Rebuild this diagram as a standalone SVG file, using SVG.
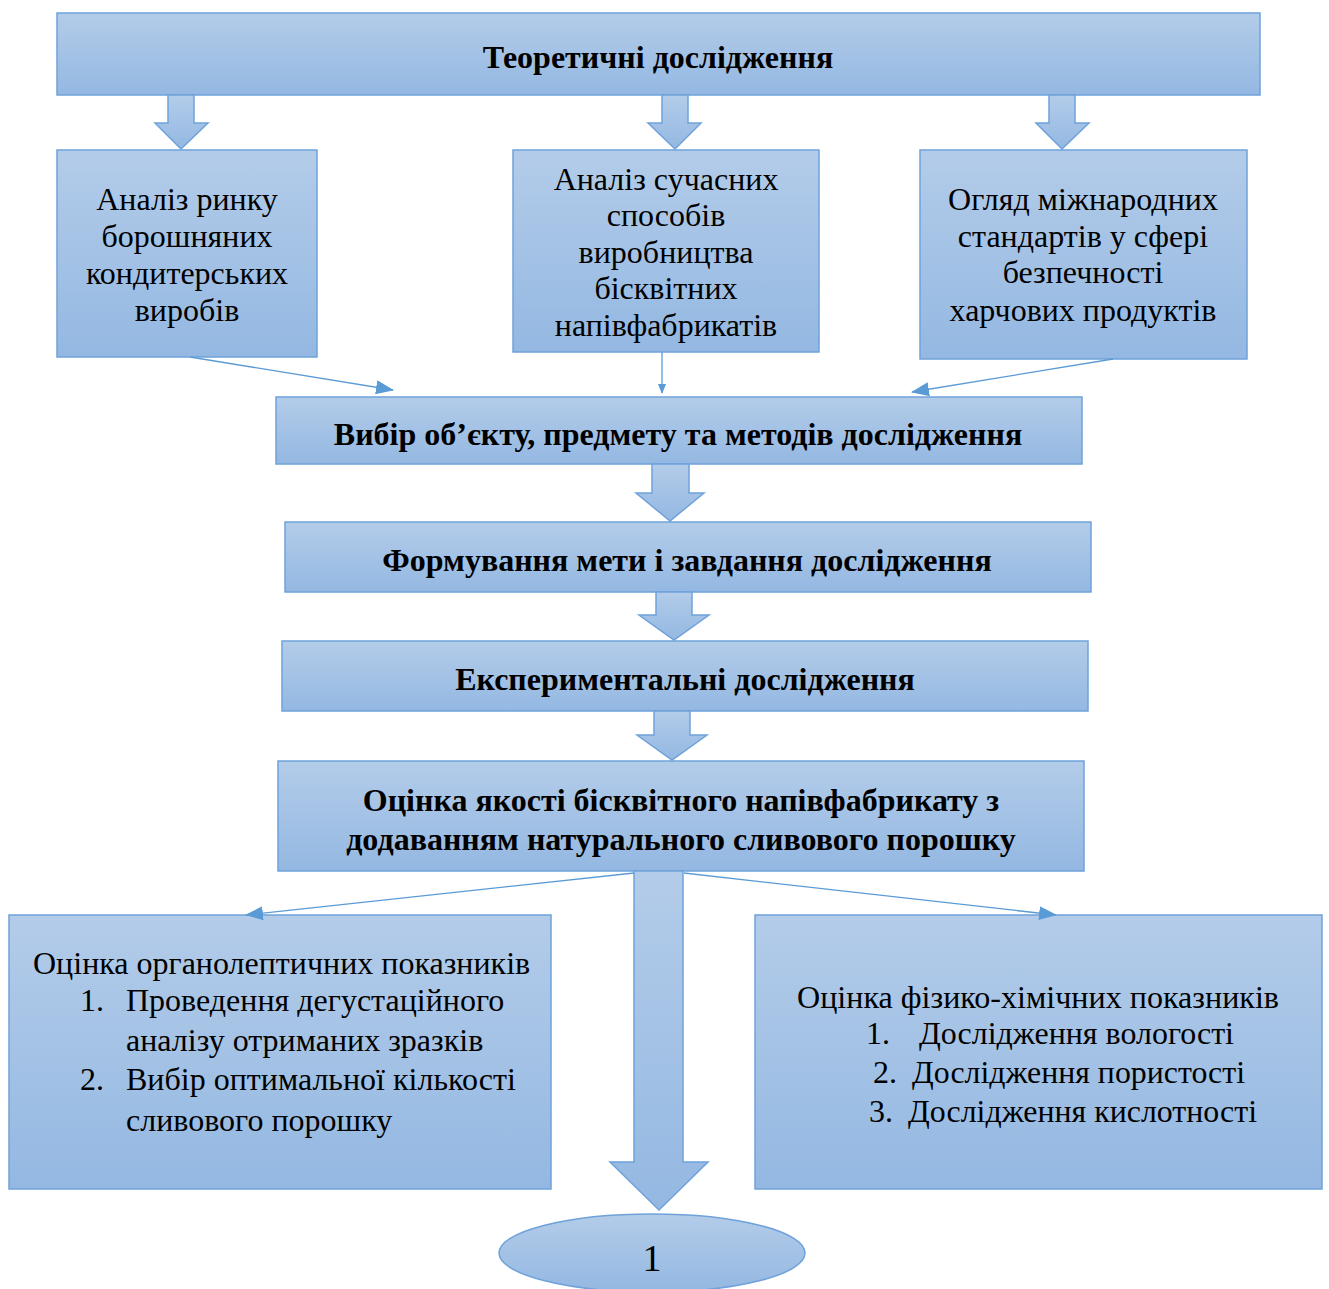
<svg xmlns="http://www.w3.org/2000/svg" width="1329" height="1289" viewBox="0 0 1329 1289">
<defs>
<linearGradient id="g" x1="0" y1="0" x2="0" y2="1">
<stop offset="0" stop-color="#b3cce9"/>
<stop offset="1" stop-color="#94b8e2"/>
</linearGradient>
<marker id="ah" markerWidth="10" markerHeight="8" refX="9" refY="4" orient="auto" markerUnits="userSpaceOnUse" viewBox="0 0 10 8">
<path d="M0,0 L10,4 L0,8 Z" fill="#5b9bd5"/>
</marker>
<marker id="ahb" markerWidth="18" markerHeight="14" refX="17" refY="7" orient="auto" markerUnits="userSpaceOnUse" viewBox="0 0 18 14">
<path d="M0,0 L18,7 L0,14 Z" fill="#5b9bd5"/>
</marker>
</defs>
<style>
.box{fill:url(#g);stroke:#6fa2da;stroke-width:1.5}
.blk{fill:url(#g);stroke:#6fa2da;stroke-width:1.5}
.t{font-family:"Liberation Serif","Times New Roman",serif;font-size:32px;fill:#000}
.b{font-weight:bold}
.c{text-anchor:middle}
.ln{stroke:#5b9bd5;stroke-width:1.3;fill:none}
</style>
<rect width="1329" height="1289" fill="#fff"/>
<g id="n-top">
<rect class="box" x="57" y="13" width="1203" height="82"/>
<text class="t b c" x="658" y="68">Теоретичні дослідження</text>
</g>
<g id="n-a">
<rect class="box" x="57" y="150" width="260" height="207"/>
<text class="t c" x="187" y="210">Аналіз ринку</text>
<text class="t c" x="187" y="247">борошняних</text>
<text class="t c" x="187" y="284">кондитерських</text>
<text class="t c" x="187" y="321">виробів</text>
</g>
<g id="n-b">
<rect class="box" x="513" y="150" width="306" height="202"/>
<text class="t c" x="666" y="190">Аналіз сучасних</text>
<text class="t c" x="666" y="226">способів</text>
<text class="t c" x="666" y="263">виробництва</text>
<text class="t c" x="666" y="299">бісквітних</text>
<text class="t c" x="666" y="336">напівфабрикатів</text>
</g>
<g id="n-c">
<rect class="box" x="920" y="150" width="327" height="209"/>
<text class="t c" x="1083" y="210">Огляд міжнародних</text>
<text class="t c" x="1083" y="247">стандартів у сфері</text>
<text class="t c" x="1083" y="283">безпечності</text>
<text class="t c" x="1083" y="321">харчових продуктів</text>
</g>
<g id="n-choice">
<rect class="box" x="276" y="397" width="806" height="67"/>
<text class="t b c" x="678" y="445">Вибір об’єкту, предмету та методів дослідження</text>
</g>
<g id="n-goal">
<rect class="box" x="285" y="522" width="806" height="70"/>
<text class="t b c" x="687" y="571">Формування мети і завдання дослідження</text>
</g>
<g id="n-exp">
<rect class="box" x="282" y="641" width="806" height="70"/>
<text class="t b c" x="685" y="690">Експериментальні дослідження</text>
</g>
<g id="n-quality">
<rect class="box" x="278" y="761" width="806" height="110"/>
<text class="t b c" x="681" y="811">Оцінка якості бісквітного напівфабрикату з</text>
<text class="t b c" x="681" y="850">додаванням натурального сливового порошку</text>
</g>
<g id="n-organ">
<rect class="box" x="9" y="915" width="542" height="274"/>
<text class="t" x="33" y="974">Оцінка органолептичних показників</text>
<text class="t" x="80" y="1011">1.</text>
<text class="t" x="126" y="1011">Проведення дегустаційного</text>
<text class="t" x="126" y="1051">аналізу отриманих зразків</text>
<text class="t" x="80" y="1090">2.</text>
<text class="t" x="126" y="1090">Вибір оптимальної кількості</text>
<text class="t" x="126" y="1131">сливового порошку</text>
</g>
<g id="n-phys">
<rect class="box" x="755" y="915" width="567" height="274"/>
<text class="t" x="797" y="1008" textLength="482" lengthAdjust="spacingAndGlyphs">Оцінка фізико-хімічних показників</text>
<text class="t" x="866" y="1044">1.</text>
<text class="t" x="919" y="1044" textLength="315" lengthAdjust="spacingAndGlyphs">Дослідження вологості</text>
<text class="t" x="873" y="1083">2.</text>
<text class="t" x="912" y="1083" textLength="333" lengthAdjust="spacingAndGlyphs">Дослідження пористості</text>
<text class="t" x="869" y="1122">3.</text>
<text class="t" x="908" y="1122" textLength="349" lengthAdjust="spacingAndGlyphs">Дослідження кислотності</text>
</g>
<g id="n-end">
<ellipse class="box" cx="652" cy="1253" rx="153" ry="39"/>
<text class="t c" x="652" y="1271" style="font-size:38px">1</text>
</g>
<g id="connectors">
<path class="blk" d="M168,95 H194 V123 H208 L181,149 L155,123 H168 Z"/>
<path class="blk" d="M662,95 H688 V123 H701 L675,149 L648,123 H662 Z"/>
<path class="blk" d="M1049,95 H1075 V123 H1089 L1062,149 L1036,123 H1049 Z"/>
<path class="blk" d="M652,464 H689 V493 H704 L670,521 L636,493 H652 Z"/>
<path class="blk" d="M656,592 H692 V615 H709 L674,640 L639,615 H656 Z"/>
<path class="blk" d="M654,711 H690 V735 H707 L672,760 L637,735 H654 Z"/>
<path class="blk" d="M634,871 H683 V1162 H708 L659,1210 L610,1162 H634 Z"/>
<line class="ln" x1="190" y1="357" x2="393" y2="390" marker-end="url(#ahb)"/>
<line class="ln" x1="662" y1="352" x2="662" y2="393" marker-end="url(#ah)"/>
<line class="ln" x1="1113" y1="359" x2="912" y2="392" marker-end="url(#ahb)"/>
<line class="ln" x1="634" y1="873" x2="246" y2="915" marker-end="url(#ahb)"/>
<line class="ln" x1="684" y1="873" x2="1056" y2="915" marker-end="url(#ahb)"/>
</g>
</svg>
